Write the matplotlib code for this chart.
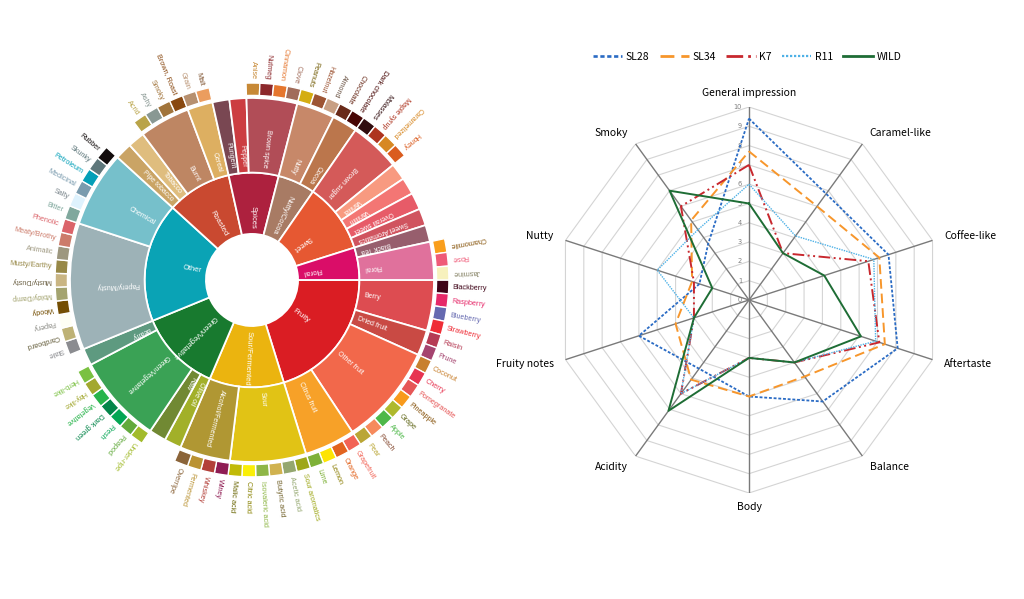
import numpy as np
import matplotlib
matplotlib.use('Agg')
import matplotlib.pyplot as plt
from matplotlib.colors import to_rgb
from matplotlib.lines import Line2D

# ---------------- flavour wheel ----------------
inner_names = ['Fruity', 'Sour/Fermented', 'Green/Vegetative', 'Other', 'Roasted',
               'Spices', 'Nutty/Cocoa', 'Sweet', 'Floral']
inner_colors = ['#da1d23', '#ebb40f', '#187a2f', '#0aa3b5', '#c94930',
                '#ad213e', '#a87b64', '#e65832', '#da0d68']

mid_names = ['Berry', 'Dried fruit', 'Other fruit', 'Citrus fruit',
             'Sour', 'Alcohol/Fermented',
             'Olive oil', 'Raw', 'Green/Vegetative', 'Beany',
             'Papery/Musty', 'Chemical',
             'Pipe tobacco', 'Tobacco', 'Burnt', 'Cereal',
             'Pungent', 'Pepper', 'Brown spice',
             'Nutty', 'Cocoa',
             'Brown sugar', 'Vanilla', 'Vanillin', 'Overall sweet', 'Sweet Aromatics',
             'Black Tea', 'Floral']
mid_parent = ['Fruity'] * 4 + ['Sour/Fermented'] * 2 + ['Green/Vegetative'] * 4 + \
             ['Other'] * 2 + ['Roasted'] * 4 + ['Spices'] * 3 + ['Nutty/Cocoa'] * 2 + \
             ['Sweet'] * 5 + ['Floral'] * 2
mid_colors = ['#dd4c51', '#c94a44', '#f2684b', '#f7a128',
              '#e1c315', '#b09733',
              '#a2b029', '#718933', '#3aa255', '#5e9a80',
              '#9db2b7', '#76c0cb',
              '#caa465', '#dfbd7e', '#be8663', '#ddaf61',
              '#794752', '#cc3d41', '#b14d57',
              '#c78869', '#bb764c',
              '#d45a59', '#f89a80', '#f37674', '#e75b68', '#d0545f',
              '#975e6d', '#e0719c']

leaf_names = ['Blackberry', 'Raspberry', 'Blueberry', 'Strawberry',
              'Raisin', 'Prune',
              'Coconut', 'Cherry', 'Pomegranate', 'Pineapple', 'Grape', 'Apple', 'Peach', 'Pear',
              'Grapefruit', 'Orange', 'Lemon', 'Lime',
              'Sour aromatics', 'Acetic acid', 'Butyric acid', 'Isovaleric acid', 'Citric acid', 'Malic acid',
              'Winey', 'Whiskey', 'Fermented', 'Overripe',
              'Under-ripe', 'Peapod', 'Fresh', 'Dark green', 'Vegetative', 'Hay-like', 'Herb-like',
              'Stale', 'Cardboard', 'Papery', 'Woody', 'Moldy/Damp', 'Musty/Dusty', 'Musty/Earthy',
              'Animalic', 'Meaty/Brothy', 'Phenolic',
              'Bitter', 'Salty', 'Medicinal', 'Petroleum', 'Skunky', 'Rubber',
              'Acrid', 'Ashy', 'Smoky', 'Brown, Roast',
              'Grain', 'Malt',
              'Anise', 'Nutmeg', 'Cinnamon', 'Clove',
              'Peanuts', 'Hazelnut', 'Almond',
              'Chocolate', 'Dark chocolate',
              'Molasses', 'Maple syrup', 'Caramelized', 'Honey',
              'Chamomile', 'Rose', 'Jasmine']
leaf_parent = ['Berry'] * 4 + ['Dried fruit'] * 2 + ['Other fruit'] * 8 + ['Citrus fruit'] * 4 + \
              ['Sour'] * 6 + ['Alcohol/Fermented'] * 4 + ['Green/Vegetative'] * 7 + \
              ['Papery/Musty'] * 10 + ['Chemical'] * 6 + ['Burnt'] * 4 + ['Cereal'] * 2 + \
              ['Brown spice'] * 4 + ['Nutty'] * 3 + ['Cocoa'] * 2 + ['Brown sugar'] * 4 + ['Floral'] * 3
leaf_colors = ['#3e0317', '#e62969', '#6569b0', '#ef2d36',
               '#b53b54', '#a5446f',
               '#c8802e', '#e73451', '#e65656', '#f89a1c', '#aeb92c', '#4eb849', '#f68a5c', '#baa635',
               '#f26355', '#e2631e', '#fde404', '#7eb138',
               '#9ea718', '#94a76f', '#d0b24f', '#8eb646', '#faef07', '#c1ba07',
               '#8f1c53', '#b34039', '#ba9232', '#8b6439',
               '#a2bb2b', '#62aa3c', '#03a653', '#038549', '#28b44b', '#a3a830', '#7ac141',
               '#8b8c90', '#beb276', '#fefef4', '#744e03', '#a3a36f', '#c9b583', '#978847',
               '#9d977f', '#cc7b6a', '#db646a',
               '#80a89d', '#def2fd', '#7a9bae', '#039fb8', '#5e777b', '#120c0c',
               '#b9a449', '#899893', '#a1743b', '#894810',
               '#b7906f', '#eb9d5f',
               '#c78936', '#8c292c', '#e5762e', '#a16c5a',
               '#d4ad12', '#9d5433', '#c89f83',
               '#692a19', '#470604',
               '#310d0f', '#ae341f', '#d78823', '#da5c1f',
               '#f99e1c', '#ef5a78', '#f7f1bd']

LEAFLESS_W = 1.34   # width of a 2nd-tier item with no leaves, in leaf units

# ---------------- radar ----------------
attributes = ['General impression', 'Caramel-like', 'Coffee-like', 'Aftertaste', 'Balance',
              'Body', 'Acidity', 'Fruity notes', 'Nutty', 'Smoky']
sl28 = [9.4, 6.8, 7.6, 8.1, 6.5, 5.0, 4.4, 6.0, 2.7, 3.6]
sl34 = [7.7, 6.0, 7.1, 7.4, 4.9, 5.0, 5.1, 4.0, 3.1, 5.1]
k7 = [7.0, 3.0, 6.5, 7.1, 4.0, 3.0, 6.0, 3.0, 3.0, 6.0]
r11 = [6.0, 4.1, 6.8, 6.9, 4.0, 3.0, 6.0, 3.0, 5.0, 4.5]
wild = [5.0, 3.0, 4.1, 6.1, 4.0, 3.0, 7.1, 3.0, 2.0, 7.0]
series_names = ['SL28', 'SL34', 'K7', 'R11', 'WILD']


def label_color(col):
    r, g, b = to_rgb(col)
    if 0.299 * r + 0.587 * g + 0.114 * b > 0.64:
        return (r * 0.55, g * 0.55, b * 0.55)
    return col


def radial_text(ax, c, r, s, size, color):
    deg = np.degrees(c) % 360
    if deg < 180:
        rot, ha = -deg, 'left'
    else:
        rot, ha = 180 - deg, 'right'
    ax.text(c, r, s, rotation=rot, rotation_mode='anchor', ha=ha, va='center',
            fontsize=size, color=color, family='Liberation Sans')


fig = plt.figure(figsize=(10.24, 5.99), dpi=100)

# ---------------- wheel ----------------
axw = fig.add_axes([0.01504, 0.1376, 0.4621, 0.79], projection='polar')
axw.set_theta_direction(-1)
axw.set_theta_offset(0)
axw.set_ylim(0, 1.30)
axw.set_axis_off()

R0, R1, R2 = 0.253, 0.59, 1.0
L0, L1 = 1.014, 1.082

unit = 0
layout_mid, layout_leaf, layout_inner = [], [], []
for iname in inner_names:
    start_i = unit
    for mname, mpar in zip(mid_names, mid_parent):
        if mpar != iname:
            continue
        kids = [k for k, p in enumerate(leaf_parent) if p == mname]
        start_m = unit
        if kids:
            for k in kids:
                layout_leaf.append((k, unit, 1.0))
                unit += 1.0
        else:
            unit += LEAFLESS_W
        layout_mid.append((mname, start_m, unit - start_m))
    layout_inner.append((iname, start_i, unit - start_i))

scale = 2 * np.pi / unit

for (name, s, w), col in zip(layout_inner, inner_colors):
    axw.bar((s + w / 2) * scale, R1 - R0, width=w * scale, bottom=R0, color=col,
            edgecolor='white', linewidth=1.3)
    radial_text(axw, (s + w / 2) * scale, R0 + 0.03, name, 5.4, 'white')

for (name, s, w), col in zip(layout_mid, mid_colors):
    axw.bar((s + w / 2) * scale, R2 - R1, width=w * scale, bottom=R1, color=col,
            edgecolor='white', linewidth=1.3)
    radial_text(axw, (s + w / 2) * scale, R1 + 0.03, name, 5.0, 'white')

for k, s, w in layout_leaf:
    axw.bar((s + w / 2) * scale, L1 - L0, width=w * scale, bottom=L0, color=leaf_colors[k],
            edgecolor='white', linewidth=1.0)
    radial_text(axw, (s + w / 2) * scale, L1 + 0.022, leaf_names[k], 5.2,
                label_color(leaf_colors[k]))

# ---------------- radar ----------------
axr = fig.add_axes([0.54297, 0.17696, 0.37695, 0.64441], projection='polar')
axr.set_theta_offset(np.pi / 2)
axr.set_theta_direction(-1)
axr.set_ylim(0, 10)
axr.set_axis_off()

n = len(attributes)
angles = np.linspace(0, 2 * np.pi, n, endpoint=False)
closed = np.append(angles, angles[0])

for lev in range(1, 11):
    axr.plot(closed, [lev] * (n + 1), color='#d4d4d4', lw=0.8, zorder=1)
for a in angles:
    axr.plot([a, a], [0, 10], color='#7a7a7a', lw=1.0, zorder=2)
for lev in range(0, 11):
    axr.annotate(str(lev), xy=(0, lev), xytext=(-5, 0), textcoords='offset points',
                 ha='right', va='center', fontsize=4.8, color='#7f7f7f')

styles = [dict(color='#2a6bc4', ls=(0, (1.6, 1.0)), lw=1.3),
          dict(color='#f7962b', ls=(0, (5, 2.5)), lw=1.4),
          dict(color='#c8282e', ls=(0, (6, 1.8, 1, 1.8, 1, 1.8)), lw=1.4),
          dict(color='#4eb1e6', ls=(0, (1, 0.8)), lw=1.0),
          dict(color='#1e6d35', ls='-', lw=1.4)]
handles = []
for vals, st, nm in zip([sl28, sl34, k7, r11, wild], styles, series_names):
    v = list(vals) + [vals[0]]
    axr.plot(closed, v, color=st['color'], linestyle=st['ls'], lw=st['lw'], zorder=3)
    handles.append(Line2D([], [], color=st['color'], linestyle=st['ls'], lw=st['lw'] + 0.6))

for a, lab in zip(angles, attributes):
    dx, dy = np.sin(a), np.cos(a)
    if abs(dx) < 0.1:
        ha = 'center'
    elif dx > 0:
        ha = 'left'
    else:
        ha = 'right'
    axr.annotate(lab, xy=(a, 10), xytext=(9 * dx, 10 * dy), textcoords='offset points',
                 ha=ha, va='center', fontsize=7.5, color='black', family='Noto Sans CJK KR')

fig.legend(handles, series_names, ncol=5, loc='center', bbox_to_anchor=(0.7295, 0.905),
           frameon=False, handlelength=2.8, handletextpad=0.35, columnspacing=1.0,
           prop={'family': 'Noto Sans CJK KR', 'size': 7.5})

fig.savefig('out.png', dpi=100, facecolor='white')
